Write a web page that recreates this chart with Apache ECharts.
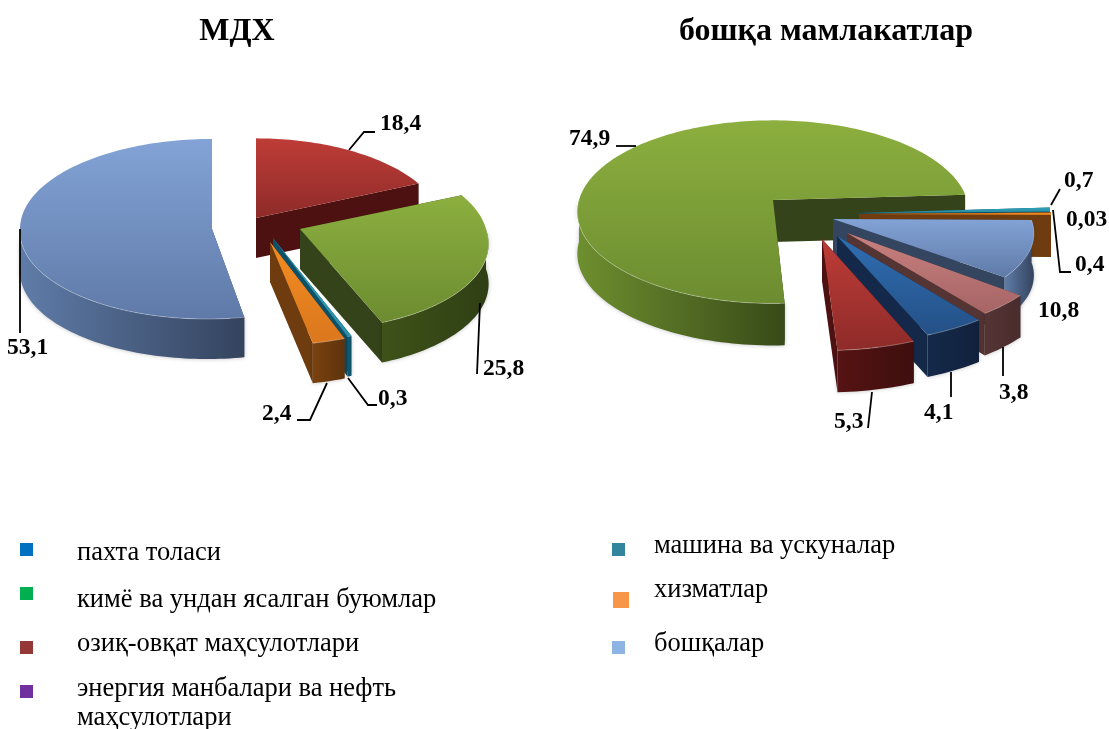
<!DOCTYPE html>
<html>
<head>
<meta charset="utf-8">
<title>МДХ / бошқа мамлакатлар</title>
<style>
html,body{margin:0;padding:0;background:#fff;}
#main{width:1109px;height:729px;}
</style>
<script src="https://cdn.jsdelivr.net/npm/echarts@6/dist/echarts.min.js"></script>
</head>
<body>
<div id="main"></div>
<script>
// titles
var titleLeft = 'МДХ';
var titleRight = 'бошқа мамлакатлар';

// data, clockwise from the first slice
var leftValues = [18.4, 25.8, 0.3, 2.4, 53.1];
var rightValues = [74.9, 0.7, 0.03, 0.4, 10.8, 3.8, 4.1, 5.3];

// legend
var legendLeft = ['пахта толаси', 'кимё ва ундан ясалган буюмлар', 'озиқ-овқат маҳсулотлари', 'энергия манбалари ва нефть', 'маҳсулотлари'];
var legendRight = ['машина ва ускуналар', 'хизматлар', 'бошқалар'];
var legendLeftColors = ['#0070C0', '#00B050', '#953735', '#7030A0'];
var legendRightColors = ['#31859C', '#F79646', '#8EB4E3'];

// slice colours: top gradient, wall gradient, cut face
var RED = {top:['#BE3C37','#8E2B29'], wall:['#561313','#3E0E0E'], cut:'#4E1111'};
var GREEN_DARK = {top:['#8CAF3F','#6C8C30'], wall:['#3E5219','#2F3F14'], cut:'#35431A'};
var GREEN = {top:['#8CAF3F','#6C8C30'], wall:['#6E8F2F','#384A18'], cut:'#35431A'};
var TEAL = {top:['#2FA0B8','#2A8DA5'], wall:['#0F5C74','#0E5068'], cut:'#0E5068'};
var ORANGE = {top:['#F28C22','#DB771D'], wall:['#7A420F','#5E330C'], cut:'#6E3C0E'};
var SKY = {top:['#83A3D6','#5F7AA8'], wall:['#5F7CA8','#34435E'], cut:'#34465F'};
var PINK = {top:['#C98181','#A66464'], wall:['#553434','#4A2C2C'], cut:'#553434'};
var BLUE = {top:['#2F6EB2','#245086'], wall:['#14294A','#11213C'], cut:'#14294A'};

// each slice is pulled out by hand in the original, so x/y is its own tip
// p is perspective, lean pushes the near side of the rim sideways
var DEPTH_L = 40, DEPTH_R = 42;
var leftSlices = [
    {x:256, y:218, rx:187, ry:90, p:0.13, lean:0, c:RED},
    {x:300, y:229, rx:186, ry:88, p:0.13, lean:7, c:GREEN_DARK},
    {x:273, y:238, rx:193, ry:92, p:0.13, lean:0, c:TEAL},
    {x:270, y:242, rx:193, ry:90, p:0.13, lean:0, c:ORANGE},
    {x:212, y:229, rx:192, ry:90, p:0, lean:-5, c:SKY}
];
var leftOrder = [0, 4, 1, 2, 3];
var rightSlices = [
    {x:773, y:200, rx:194, ry:90, p:0.13, lean:0, c:GREEN},
    {x:859, y:213, rx:191, ry:90, p:0, lean:0, c:TEAL},
    {x:859, y:214, rx:192, ry:90, p:0, lean:0, c:ORANGE},
    {x:859, y:214, rx:192, ry:90, p:0, lean:0, c:ORANGE},
    {x:833, y:219, rx:198, ry:84, p:0.13, lean:8, c:SKY},
    {x:847, y:233, rx:206, ry:90, p:0.13, lean:0, c:PINK},
    {x:837, y:236, rx:212, ry:94, p:0.13, lean:0, c:BLUE},
    {x:822, y:239, rx:208, ry:97, p:0.13, lean:3, c:RED}
];
var rightOrder = [0, 1, 2, 3, 4, 5, 6, 7];

// label anchors and leader lines, same order as the values
var leftLabels = [[380,124],[483,369],[378,399],[262,414],[7,348]];
var leftLeaders = [
    [[349,150],[364,132],[375,132]],
    [[480,303],[477,374]],
    [[348,378],[368,405],[377,405]],
    [[327,383],[310,420],[297,420]],
    [[20,229],[20,333]]
];
var rightLabels = [[569,139],[1064,181],[1066,220],[1075,265],[1038,311],[999,393],[924,413],[834,422]];
var rightLeaders = [
    [[616,146],[636,146]],
    [[1051,205],[1060,189]],
    null,
    [[1053,210],[1060,272],[1071,272]],
    null,
    [[1003,347],[1003,376]],
    [[951,372],[951,397]],
    [[872,392],[868,428]]
];

function rimPoint(g, deg){
    var t = deg * Math.PI / 180;
    var cos = Math.cos(t);
    var s = 1 / (1 + g.p * cos);
    var shift = cos < 0 ? -cos * g.lean : 0;
    return [g.x + g.rx * Math.sin(t) * s + shift, g.y - g.ry * cos * s];
}
function arc(g, a, b){
    var pts = [], n = Math.max(2, Math.ceil((b - a) / 1.5));
    for(var i = 0; i <= n; i++){
        pts.push(rimPoint(g, a + (b - a) * i / n));
    }
    return pts;
}
function drop(pts, d){
    return pts.map(function(p){ return [p[0], p[1] + d]; }).reverse();
}
function vGrad(c){
    return new echarts.graphic.LinearGradient(0, 0, 0, 1, [{offset:0,color:c[0]},{offset:1,color:c[1]}]);
}
function hGrad(c){
    return new echarts.graphic.LinearGradient(0, 0, 1, 0, [{offset:0,color:c[0]},{offset:1,color:c[1]}]);
}

// one pseudo 3d pie as a custom series, angles come from the values
function pieSeries(values, slices, order, rotation, depth){
    var total = values.reduce(function(a, b){ return a + b; }, 0);
    var starts = [], acc = rotation;
    values.forEach(function(v){
        starts.push(acc);
        acc += v / total * 360;
    });
    return {
        type: 'custom',
        coordinateSystem: 'none',
        silent: true,
        data: order.map(function(i){ return [i, values[i]]; }),
        renderItem: function(params, api){
            var i = api.value(0);
            var a = starts[i] % 360, b = a + api.value(1) / total * 360;
            var g = slices[i], c = g.c;
            var apex = [g.x, g.y];
            var p0 = rimPoint(g, a), p1 = rimPoint(g, b);
            var kids = [];
            // cut faces
            [p0, p1].forEach(function(p){
                var edge = [apex, p];
                kids.push({type:'polygon', shape:{points:edge.concat(drop(edge, depth))}, style:{fill:c.cut}});
            });
            // outer wall, only the part turned to the viewer
            var w0 = Math.max(a, 90), w1 = Math.min(b, 270);
            var front = null;
            if(w1 > w0){
                front = arc(g, w0, w1);
                kids.push({
                    type:'polygon',
                    shape:{points:front.concat(drop(front, depth))},
                    style:{fill:hGrad(c.wall), shadowBlur:4, shadowColor:'rgba(0,0,0,0.25)'}
                });
            }
            // top
            kids.push({type:'polygon', shape:{points:[apex].concat(arc(g, a, b))}, style:{fill:vGrad(c.top)}});
            // light edge on the front rim
            if(front){
                kids.push({type:'polyline', shape:{points:front}, style:{fill:null, stroke:'rgba(255,255,255,0.3)', lineWidth:1}});
            }
            return {type:'group', children:kids};
        }
    };
}

function fmt(v){
    return String(v).replace('.', ',');
}

var FONT = '"Liberation Serif", "Times New Roman", serif';
var graphics = [];
function addText(text, x, y, size, bold, align){
    graphics.push({
        type:'text', x:x, y:y,
        style:{text:text, fill:'#000', font:(bold ? 'bold ' : '') + size + 'px ' + FONT, textAlign:align || 'left', textVerticalAlign:'middle'}
    });
}
function addLabels(values, labels, leaders){
    values.forEach(function(v, i){
        addText(fmt(v), labels[i][0], labels[i][1], 23.5, true);
        if(leaders[i]){
            graphics.push({type:'polyline', shape:{points:leaders[i]}, style:{fill:null, stroke:'#000', lineWidth:1.8}, z:5});
        }
    });
}

addText(titleLeft, 237, 32, 32, true, 'center');
addText(titleRight, 826, 32, 32, true, 'center');
addLabels(leftValues, leftLabels, leftLeaders);
addLabels(rightValues, rightLabels, rightLeaders);

// legend, placed by hand because the rows are uneven in the original
var legendLeftY = [553, 600, 644, 689, 718];
var markLeftY = [543, 587, 641, 685];
legendLeft.forEach(function(t, i){
    addText(t, 77, legendLeftY[i], 26.5, false);
    if(i < legendLeftColors.length){
        graphics.push({type:'rect', shape:{x:20, y:markLeftY[i], width:13, height:13}, style:{fill:legendLeftColors[i]}});
    }
});
var legendRightY = [546, 590, 644];
var markRight = [[612,543,13],[613,592,16],[612,641,13]];
legendRight.forEach(function(t, i){
    addText(t, 654, legendRightY[i], 26.5, false);
    graphics.push({type:'rect', shape:{x:markRight[i][0], y:markRight[i][1], width:markRight[i][2], height:markRight[i][2]}, style:{fill:legendRightColors[i]}});
});

var myChart = echarts.init(document.getElementById('main'));
myChart.setOption({
    animation: false,
    backgroundColor: '#fff',
    graphic: {elements: graphics},
    series: [
        pieSeries(leftValues, leftSlices, leftOrder, 0, DEPTH_L),
        pieSeries(rightValues, rightSlices, rightOrder, 177, DEPTH_R)
    ]
});
</script>
</body>
</html>
